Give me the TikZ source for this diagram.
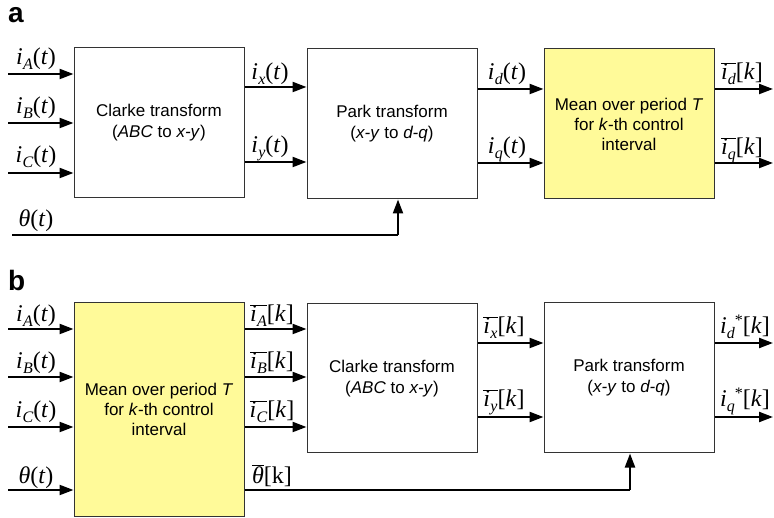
\documentclass[tikz,border=0pt]{standalone}
\usepackage{fontspec}
\setmainfont{Liberation Serif}
\setsansfont{Liberation Sans}
\usetikzlibrary{arrows.meta}

% signal-name helpers
\newcommand{\sub}[1]{\raisebox{-4.5pt}{\fontsize{16}{16}\selectfont\itshape #1}}
\newcommand{\sig}[1]{\textit{i}\kern0.3pt\sub{#1}(\textit{t})}
\newcommand{\mbar}[1]{$\overline{\hbox{#1}}$}
\newcommand{\msig}[1]{\mbar{\textit{i}\kern0.3pt\sub{#1}}[\textit{k}]}
\newcommand{\rsig}[1]{\textit{i}\kern0.3pt\sub{#1}\raisebox{8pt}{\fontsize{16}{16}\selectfont *}[\textit{k}]}

\tikzset{
  blk/.style={draw=black!80, line width=1pt, minimum width=170pt, minimum height=150pt,
    inner sep=0pt, align=center, font=\sffamily\fontsize{17}{21}\selectfont},
  meanblk/.style={blk, fill=yellow!40, font=\sffamily\fontsize{17}{20}\selectfont},
  arr/.style={line width=2.2pt, -{Triangle[length=14pt,width=10pt]}},
  wire/.style={line width=2.2pt},
  lab/.style={anchor=base, inner sep=0pt, font=\fontsize{24}{26}\selectfont},
  tag/.style={anchor=north west, inner sep=0pt, font=\sffamily\bfseries\fontsize{28}{28}\selectfont}
}

\begin{document}
\begin{tikzpicture}[x=1pt,y=-1pt]
\useasboundingbox (0,0) rectangle (774,518);

% ---------------- panel a ----------------
\node[tag] (taga) at (8,7) {a};
\node[blk] (clarkeA) at (159,123) {Clarke transform\\(\textit{ABC} to \textit{x-y})};
\node[blk] (parkA) at (392,124) {Park transform\\(\textit{x-y} to \textit{d-q})};
\node[meanblk] (meanA) at (629,124) {Mean over period \textit{T}\\for \textit{k}-th control\\interval};

\coordinate (aInA) at (8,74);
\coordinate (aInB) at (8,123);
\coordinate (aInC) at (8,173);
\coordinate (aTh) at (12,235);
\coordinate (aThC) at (398,235);
\coordinate (aOutD) at (773,89);
\coordinate (aOutQ) at (773,163);

\draw[arr] (aInA) -- (aInA -| clarkeA.west);
\draw[arr] (aInB) -- (aInB -| clarkeA.west);
\draw[arr] (aInC) -- (aInC -| clarkeA.west);
\draw[arr] (clarkeA.east |- 0,87) -- (parkA.west |- 0,87);
\draw[arr] (clarkeA.east |- 0,162) -- (parkA.west |- 0,162);
\draw[arr] (parkA.east |- 0,89) -- (meanA.west |- 0,89);
\draw[arr] (parkA.east |- 0,163) -- (meanA.west |- 0,163);
\draw[arr] (meanA.east |- aOutD) -- (aOutD);
\draw[arr] (meanA.east |- aOutQ) -- (aOutQ);
\draw[wire] (aTh) -- (aThC);
\draw[arr] (aThC) -- (aThC |- parkA.south);

\node[lab] (laA) at (36,65) {\sig{A}};
\node[lab] (laB) at (36,114) {\sig{B}};
\node[lab] (laC) at (36,163) {\sig{C}};
\node[lab] (laTh) at (36,227) {\textit{θ}(\textit{t})};
\node[lab] (laX) at (270,80) {\sig{x}};
\node[lab] (laY) at (270,153) {\sig{y}};
\node[lab] (laD) at (507,80) {\sig{d}};
\node[lab] (laQ) at (507,154) {\sig{q}};
\node[lab] (laMD) at (742,80) {\msig{d}};
\node[lab] (laMQ) at (742,155) {\msig{q}};

% ---------------- panel b ----------------
\node[tag] (tagb) at (8,270) {b};
\node[meanblk, minimum height=213pt] (meanB) at (159,409.5) {Mean over period \textit{T}\\for \textit{k}-th control\\interval};
\node[blk, minimum height=149pt] (clarkeB) at (392,378.5) {Clarke transform\\(\textit{ABC} to \textit{x-y})};
\node[blk] (parkB) at (629,378) {Park transform\\(\textit{x-y} to \textit{d-q})};

\coordinate (bInA) at (8,329);
\coordinate (bInB) at (8,377);
\coordinate (bInC) at (8,427);
\coordinate (bTh) at (8,490);
\coordinate (bThC) at (630,490);
\coordinate (bOutD) at (773,343);
\coordinate (bOutQ) at (773,417);

\draw[arr] (bInA) -- (bInA -| meanB.west);
\draw[arr] (bInB) -- (bInB -| meanB.west);
\draw[arr] (bInC) -- (bInC -| meanB.west);
\draw[arr] (bTh) -- (bTh -| meanB.west);
\draw[arr] (meanB.east |- bInA) -- (clarkeB.west |- bInA);
\draw[arr] (meanB.east |- bInB) -- (clarkeB.west |- bInB);
\draw[arr] (meanB.east |- bInC) -- (clarkeB.west |- bInC);
\draw[arr] (clarkeB.east |- bOutD) -- (parkB.west |- bOutD);
\draw[arr] (clarkeB.east |- bOutQ) -- (parkB.west |- bOutQ);
\draw[arr] (parkB.east |- bOutD) -- (bOutD);
\draw[arr] (parkB.east |- bOutQ) -- (bOutQ);
\draw[wire] (meanB.east |- bThC) -- (bThC);
\draw[arr] (bThC) -- (bThC |- parkB.south);

\node[lab] (lbA) at (36,322) {\sig{A}};
\node[lab] (lbB) at (36,369) {\sig{B}};
\node[lab] (lbC) at (36,418) {\sig{C}};
\node[lab] (lbTh) at (36,483) {\textit{θ}(\textit{t})};
\node[lab] (lbMA) at (272,322) {\msig{A}};
\node[lab] (lbMB) at (272,369) {\msig{B}};
\node[lab] (lbMC) at (272,418) {\msig{C}};
\node[lab] (lbMTh) at (272,483) {\mbar{\textit{θ}}[k]};
\node[lab] (lbX) at (504,334) {\msig{x}};
\node[lab] (lbY) at (504,407) {\msig{y}};
\node[lab] (lbD) at (745,334) {\rsig{d}};
\node[lab] (lbQ) at (745,407) {\rsig{q}};
\end{tikzpicture}
\end{document}
